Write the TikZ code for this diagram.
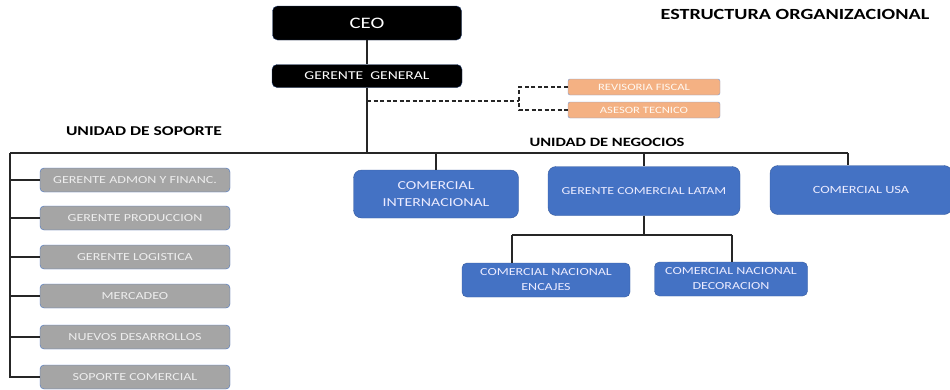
\documentclass[tikz,border=0pt]{standalone}
\usepackage{fontspec}
\setmainfont[FakeStretch=1.3]{Carlito}
\usepackage{xcolor}
\definecolor{boxblue}{HTML}{4472C4}
\definecolor{boxgray}{HTML}{A5A5A5}
\definecolor{boxorange}{HTML}{F4B183}
\definecolor{linegray}{HTML}{262626}

\begin{document}
\begin{tikzpicture}[x=1pt,y=-1pt,
  % box styles
  topbox/.style={draw=boxblue!60!black,fill=black,rounded corners=5pt,text=white,inner sep=0pt},
  graybox/.style={draw=boxblue,fill=boxgray,rounded corners=4pt,text=white!93!black,minimum width=190pt,minimum height=24pt,inner sep=0pt,font=\fontsize{10.8}{12}\selectfont},
  orangebox/.style={draw=boxblue!70,fill=boxorange,rounded corners=2pt,text=white!95!orange,minimum width=152pt,minimum height=16pt,inner sep=0pt,font=\fontsize{9.7}{10}\selectfont},
  bluebox/.style={draw=boxblue!80!black,fill=boxblue,rounded corners=8pt,text=white!92!blue,align=center,inner sep=0pt,font=\fontsize{12.2}{17}\selectfont},
  subbox/.style={draw=boxblue!80!black,fill=boxblue,rounded corners=5pt,text=white!92!blue,align=center,inner sep=0pt,font=\fontsize{10.8}{15}\selectfont},
  title/.style={font=\bfseries\fontsize{13}{14}\selectfont},
  line/.style={draw=linegray,line width=1.8pt},
  dashline/.style={draw=linegray,line width=1.4pt,dash pattern=on 4pt off 2.5pt}
]
\useasboundingbox (0,0) rectangle (950,389);

% headings
\node[title,font=\bfseries\fontsize{15.5}{16}\selectfont] (est) at (795,14) {ESTRUCTURA ORGANIZACIONAL};
\node[title,font=\bfseries\fontsize{13.5}{14}\selectfont] (soporte) at (144,131) {UNIDAD DE SOPORTE};
\node[title,font=\bfseries\fontsize{12.7}{14}\selectfont] (negocios) at (607,142) {UNIDAD DE NEGOCIOS};

% top
\node[topbox,minimum width=189pt,minimum height=34pt,font=\fontsize{16}{18}\selectfont] (ceo) at (367,23) {CEO};
\node[topbox,minimum width=190pt,minimum height=23pt,font=\fontsize{12}{14}\selectfont] (gg) at (367,76) {GERENTE\ \ GENERAL};

% staff
\node[orangebox] (rf) at (644,87) {REVISORIA FISCAL};
\node[orangebox] (at) at (644,110) {ASESOR TECNICO};

% support unit
\node[graybox] (g1) at (135,180) {GERENTE ADMON Y FINANC.};
\node[graybox] (g2) at (135,218) {GERENTE PRODUCCION};
\node[graybox] (g3) at (135,257) {GERENTE LOGISTICA};
\node[graybox] (g4) at (135,296) {MERCADEO};
\node[graybox] (g5) at (135,337) {NUEVOS DESARROLLOS};
\node[graybox] (g6) at (135,377) {SOPORTE COMERCIAL};

% business unit
\node[bluebox,minimum width=165pt,minimum height=48pt] (ci) at (436,194) {COMERCIAL\\INTERNACIONAL};
\node[bluebox,minimum width=192pt,minimum height=49pt,font=\fontsize{10.7}{12}\selectfont] (gcl) at (644,191) {GERENTE COMERCIAL LATAM};
\node[bluebox,minimum width=182pt,minimum height=49pt,font=\fontsize{11}{12}\selectfont] (usa) at (861,190) {COMERCIAL USA};
\node[subbox,minimum width=168pt,minimum height=34pt] (enc) at (546,280) {COMERCIAL NACIONAL\\ENCAJES};
\node[subbox,minimum width=153pt,minimum height=34pt] (dec) at (731,279) {COMERCIAL NACIONAL\\DECORACION};

% buses
\coordinate (busL) at (10,153);
\coordinate (busR) at (848,153);
\coordinate (dj) at (519,101);
\coordinate (subL) at (512,235);
\coordinate (subR) at (732,235);

% edges
\draw[line] (ceo) -- (gg);
\draw[line] (gg.south) -- (gg.south |- busL);
\draw[line] (busL) -- (busR);
\draw[line] (busL) |- (g6.west);
\foreach \n in {g1,g2,g3,g4,g5}
  \draw[line] (busL |- \n.west) -- (\n.west);
\draw[line] (ci.north |- busL) -- (ci.north);
\draw[line] (gcl.north |- busL) -- (gcl.north);
\draw[line] (busR) -- (busR |- usa.north);
\draw[line] (gcl.south) -- (gcl.south |- subL);
\draw[line] (subL) -- (subR);
\draw[line] (subL) -- (subL |- enc.north);
\draw[line] (subR) -- (subR |- dec.north);

% dashed staff links
\draw[dashline] (gg.south |- dj) -- (dj);
\draw[dashline] (rf.west) -| (dj) |- (at.west);

\end{tikzpicture}
\end{document}
